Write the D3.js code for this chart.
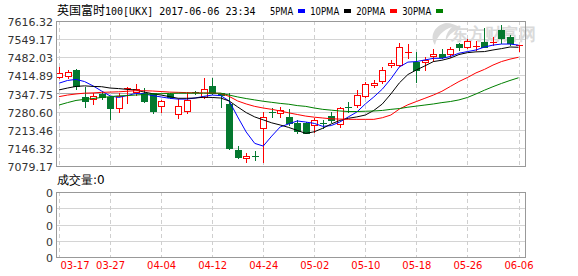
<!DOCTYPE html>
<html>
<head>
<meta charset="utf-8">
<script src="https://cdn.jsdelivr.net/npm/d3@7"></script>
<style>
  body { margin: 0; background: #fff; }
  svg { display: block; }
  text { font-family: "DejaVu Sans", sans-serif; }
</style>
</head>
<body>
<svg id="chart" width="578" height="276"></svg>
<script>
// FTSE 100 daily candles, 2017-03-17 .. 2017-06-06
const dates = ["03-17","03-20","03-21","03-22","03-23","03-24","03-27","03-28","03-29","03-30","03-31",
  "04-03","04-04","04-05","04-06","04-07","04-10","04-11","04-12","04-13","04-18","04-19","04-20","04-21",
  "04-24","04-25","04-26","04-27","04-28","05-01","05-02","05-03","05-04","05-05","05-08","05-09","05-10",
  "05-11","05-12","05-15","05-16","05-17","05-18","05-19","05-22","05-23","05-24","05-25","05-26","05-30",
  "05-31","06-01","06-02","06-05","06-06"]

const open = [7408,7414,7435,7334,7327,7345,7334,7293,7363,7354, 7351,7348,7301,7345,7272,7284,7354,7336,7375,7348,
  7308,7138,7108,7116,7219,7280,7274,7262,7240,7237, 7231,7240,7264,7234,7299,7305,7338,7378,7395,7453,
  7453,7497,7466,7466,7488,7493,7493,7531,7519,7521, 7537,7534,7583,7556,7522]
const high = [7447,7435,7438,7373,7351,7352,7338,7349,7371,7383, 7367,7350,7324,7348,7326,7352,7358,7404,7404,7350,
  7348,7153,7126,7136,7278,7293,7299,7289,7250,7242, 7256,7250,7280,7297,7317,7361,7392,7398,7447,7472,
  7534,7531,7503,7484,7512,7512,7521,7536,7549,7543, 7589,7558,7602,7565,7527]
const low = [7406,7404,7363,7299,7308,7326,7252,7280,7312,7342, 7318,7277,7280,7332,7256,7274,7345,7330,7346,7299,
  7143,7108,7095,7101,7095,7262,7262,7231,7202,7200, 7206,7219,7243,7225,7280,7299,7336,7373,7386,7447,
  7450,7478,7389,7435,7469,7478,7484,7509,7515,7509, 7519,7527,7536,7527,7505]
const close = [7423,7426,7377,7321,7340,7336,7293,7340,7369,7363, 7320,7284,7320,7336,7301,7324,7348,7363,7348,7344,
  7145,7114,7116,7114,7262,7277,7287,7237,7209,7203, 7250,7235,7250,7295,7293,7342,7382,7386,7435,7460,
  7521,7503,7435,7472,7493,7484,7512,7519,7543,7525, 7521,7540,7552,7534,7526]

// moving averages as drawn on the picture
const ma5 = [7386,7396,7400,7392,7376,7357,7339,7333,7340,7348, 7346,7340,7335,7330,7327,7327,7331,7337,7342,7340,
  7320,7261,7205,7163,7153,7190,7224,7235,7246,7242, 7237,7226,7229,7242,7261,7279,7309,7335,7364,7402,
  7446,7464,7466,7472,7478,7478,7485,7497,7503,7509, 7520,7527,7531,7531,7527]
const ma10 = [7361,7368,7374,7376,7374,7373,7368,7366,7363,7361, 7353,7347,7342,7336,7330,7330,7331,7334,7333,7331,
  7320,7298,7277,7261,7250,7239,7231,7222,7211,7200, 7206,7219,7235,7248,7256,7261,7268,7285,7309,7346,
  7387,7418,7435,7450,7466,7471,7479,7492,7499,7502, 7503,7509,7514,7520,7519]
const ma20 = [7336,7342,7346,7349,7350,7352,7353,7354,7356,7358, 7358,7357,7355,7353,7352,7351,7350,7350,7349,7348,
  7337,7320,7309,7300,7294,7289,7283,7276,7270,7264, 7260,7257,7254,7253,7252,7252,7252,7252,7258,7268,
  7290,7306,7318,7330,7342,7356,7374,7392,7407,7424, 7437,7453,7466,7475,7482]
const ma30 = [7305,7314,7322,7326,7329,7333,7336,7339,7340,7342, 7344,7346,7347,7348,7349,7349,7349,7349,7349,7349,
  7342,7335,7329,7324,7319,7315,7311,7308,7303,7300, 7294,7289,7286,7283,7281,7281,7282,7283,7285,7289,
  7292,7297,7301,7305,7309,7314,7318,7324,7333,7346, 7360,7373,7385,7396,7406]

const maNames = ["5PMA", "10PMA", "20PMA", "30PMA"]
const maColors = ["#0000ff", "#000000", "#ff0000", "#008000"]

const yTicks = [7079.17, 7146.32, 7213.46, 7280.60, 7347.75, 7414.89, 7482.03, 7549.17, 7616.32]
const xTicks = ["03-17","03-27","04-04","04-12","04-24","05-02","05-10","05-18","05-26","06-06"]
const volLabels = ["0", "0", "0", "0", "0"]

const upColor = "#ff0000"
const downColor = "#04782f"

const svg = d3.select("#chart")
const plot = { left: 56, right: 525, top: 21, bottom: 166 }
const vol = { top: 192, bottom: 257 }
const px = (v) => Math.round(v) + 0.5

const x = d3.scalePoint().domain(dates).range([59, 518.5])
const y = d3.scaleLinear().domain([yTicks[0], yTicks[yTicks.length - 1]]).range([plot.bottom, plot.top])
const yv = d3.scaleLinear().domain([0, volLabels.length - 1]).range([vol.bottom, vol.top])

const grid = svg.append("g").attr("shape-rendering", "crispEdges")

// horizontal grid, middle level drawn darker
yTicks.slice(1, -1).forEach((t, i) => {
  grid.append("line")
    .attr("x1", plot.left).attr("x2", plot.right)
    .attr("y1", px(y(t))).attr("y2", px(y(t)))
    .attr("stroke", i === 3 ? "#a8a8a8" : "#d4d4d4")
})
d3.range(1, volLabels.length - 1).forEach((i) => {
  grid.append("line")
    .attr("x1", plot.left).attr("x2", plot.right)
    .attr("y1", px(yv(i))).attr("y2", px(yv(i)))
    .attr("stroke", "#d4d4d4")
})

// vertical dashed grid in both panels
xTicks.forEach((d) => {
  ;[[plot.top, plot.bottom], [vol.top, vol.bottom]].forEach(([t, b]) => {
    grid.append("line")
      .attr("x1", px(x(d))).attr("x2", px(x(d)))
      .attr("y1", t).attr("y2", b)
      .attr("stroke", "#cfcfcf")
      .attr("stroke-dasharray", "4,3")
  })
})

// watermark
const wm = svg.append("g").attr("fill", "#dadada")
wm.append("path")
  .attr("d", "M446,23 C435,25 429,36 435,45 C437,36 443,30 452,27 C448,31 445,36 446,41 C449,34 455,30 461,28 C457,25 451,23 446,23 Z")
wm.append("text")
  .attr("x", 451).attr("y", 40)
  .attr("font-family", "Noto Sans CJK SC")
  .attr("font-size", 17).attr("font-weight", "bold")
  .text("东方财富网")

// candles
const candles = svg.append("g").attr("shape-rendering", "crispEdges")
dates.forEach((d, i) => {
  const cx = Math.round(x(d))
  const up = close[i] >= open[i]
  const col = up ? upColor : downColor
  const yTop = Math.round(y(Math.max(open[i], close[i])))
  const yBot = Math.round(y(Math.min(open[i], close[i])))
  candles.append("line")
    .attr("x1", cx + 0.5).attr("x2", cx + 0.5)
    .attr("y1", Math.round(y(high[i]))).attr("y2", Math.round(y(low[i])) + 1)
    .attr("stroke", col)
  if (yBot - yTop < 2) {
    candles.append("line")
      .attr("x1", cx - 3).attr("x2", cx + 4)
      .attr("y1", yTop + 0.5).attr("y2", yTop + 0.5)
      .attr("stroke", col)
  } else if (up) {
    candles.append("rect")
      .attr("x", cx - 2.5).attr("y", yTop + 0.5)
      .attr("width", 6).attr("height", yBot - yTop)
      .attr("fill", "#fff").attr("stroke", col)
  } else {
    candles.append("rect")
      .attr("x", cx - 3).attr("y", yTop)
      .attr("width", 7).attr("height", yBot - yTop + 1)
      .attr("fill", col)
  }
})

// moving average lines on top
const line = d3.line().x((v, i) => x(dates[i])).y((v) => y(v))
;[ma5, ma10, ma20, ma30].forEach((s, k) => {
  svg.append("path")
    .attr("d", line(s))
    .attr("fill", "none")
    .attr("stroke", maColors[k])
    .attr("stroke-width", 1)
})

// frames
svg.append("rect")
  .attr("x", plot.left + 0.5).attr("y", plot.top + 0.5)
  .attr("width", plot.right - plot.left).attr("height", plot.bottom - plot.top)
  .attr("fill", "none").attr("stroke", "#999")
svg.append("rect")
  .attr("x", plot.left + 0.5).attr("y", vol.top + 0.5)
  .attr("width", plot.right - plot.left).attr("height", vol.bottom - vol.top)
  .attr("fill", "none").attr("stroke", "#999")

// y axis labels
const yAxis = svg.append("g")
  .attr("transform", `translate(${plot.left - 1},1)`)
  .call(d3.axisLeft(y).tickValues(yTicks).tickFormat(d3.format(".2f")).tickSize(0).tickPadding(2))
yAxis.select(".domain").remove()
yAxis.selectAll("text").attr("font-size", 11).attr("fill", "#333").attr("font-family", "DejaVu Sans")

const vAxis = svg.append("g")
  .attr("transform", `translate(${plot.left - 1},1)`)
  .call(d3.axisLeft(yv).tickValues(d3.range(volLabels.length)).tickFormat((i) => volLabels[i]).tickSize(0).tickPadding(2))
vAxis.select(".domain").remove()
vAxis.selectAll("text").attr("font-size", 11).attr("fill", "#333").attr("font-family", "DejaVu Sans")

// x axis labels (red)
const xAxis = svg.append("g")
  .attr("transform", `translate(0,${vol.bottom + 3})`)
  .call(d3.axisBottom(x).tickValues(xTicks).tickSize(0).tickPadding(2))
xAxis.select(".domain").remove()
xAxis.selectAll("text")
  .attr("font-size", 10).attr("fill", "#ff0000")
  .attr("font-family", "DejaVu Sans Mono")
xAxis.selectAll(".tick").filter((d, i) => i === 0).select("text")
  .attr("text-anchor", "start").attr("x", 1)

// title + legend
const title = svg.append("text").attr("x", 57).attr("y", 15).attr("fill", "#000")
title.append("tspan").attr("font-family", "Noto Sans CJK SC").attr("font-size", 12).text("英国富时")
title.append("tspan").attr("font-family", "DejaVu Sans Mono").attr("font-size", 10).text("100[UKX] 2017-06-06 23:34")

// legend: text, gap, swatch, gap — positions follow measured text width
let lx = 270
maNames.forEach((name, k) => {
  const t = svg.append("text")
    .attr("x", lx).attr("y", 15)
    .attr("font-family", "DejaVu Sans Mono").attr("font-size", 10)
    .attr("textLength", name.length * 5.8).attr("lengthAdjust", "spacingAndGlyphs")
    .attr("fill", "#000")
    .text(name)
  lx += t.node().getComputedTextLength() + 5
  svg.append("rect")
    .attr("x", Math.round(lx)).attr("y", 9)
    .attr("width", 7).attr("height", 4)
    .attr("fill", maColors[k])
  lx += 7 + 5
})

svg.append("text").attr("x", 57).attr("y", 184).attr("fill", "#000")
  .attr("font-family", "Noto Sans CJK SC").attr("font-size", 12)
  .text("成交量:0")
</script>
</body>
</html>
